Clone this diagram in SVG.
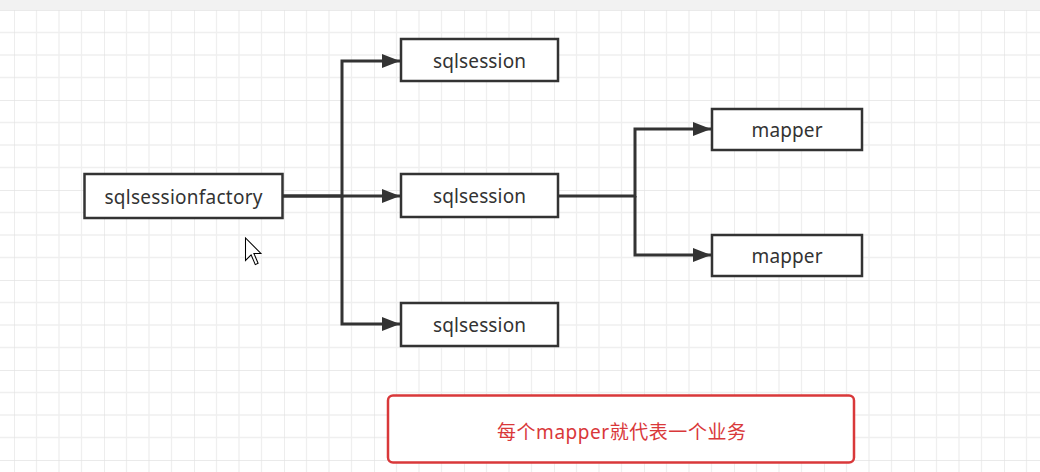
<svg xmlns="http://www.w3.org/2000/svg" width="1040" height="472" viewBox="0 0 1040 472">
<defs>
<pattern id="grid" patternUnits="userSpaceOnUse" x="14" y="10" width="90" height="90">
<path d="M22.5 0V90M45 0V90M67.5 0V90M0 22.5H90M0 45H90M0 67.5H90" stroke="#efefef" stroke-width="1.3" fill="none"/>
<path d="M0 0V90M0 0H90" stroke="#e3e3e3" stroke-width="1.3" fill="none"/>
</pattern>
<marker id="arr" markerUnits="userSpaceOnUse" markerWidth="20" markerHeight="16" refX="18" refY="7" orient="auto">
<path d="M0 0L18 7L0 14Z" fill="#333"/>
</marker>
</defs>
<style>
.box{fill:#fff;stroke:#333;stroke-width:2.5}
.lbl{font-family:"Noto Sans","Noto Sans CJK SC",sans-serif;font-size:19px;fill:#333;text-anchor:middle}
.con{fill:none;stroke:#333;stroke-width:3}
.note{fill:#fff;stroke:#d9383a;stroke-width:2.5}
.ntxt{font-family:"Noto Sans","Noto Sans CJK SC",sans-serif;font-size:19px;fill:#d9383a;text-anchor:middle}
</style>
<rect x="0" y="0" width="1040" height="472" fill="#fff"/>
<rect x="0" y="10" width="1040" height="462" fill="url(#grid)"/>
<rect x="0" y="0" width="1040" height="10" fill="#f2f2f2"/>
<g id="connectors">
<path class="con" d="M283 196H342V61H400" marker-end="url(#arr)"/>
<path class="con" d="M283 196H400" marker-end="url(#arr)"/>
<path class="con" d="M342 196V324H400" marker-end="url(#arr)"/>
<path class="con" d="M558 196H635V129H711" marker-end="url(#arr)"/>
<path class="con" d="M635 196V255H711" marker-end="url(#arr)"/>
</g>
<g id="factory">
<rect class="box" x="84.5" y="174" width="198" height="44"/>
<text class="lbl" x="183.5" y="204" textLength="158">sqlsessionfactory</text>
</g>
<g id="session1">
<rect class="box" x="401" y="39" width="157" height="42"/>
<text class="lbl" x="479.5" y="68" textLength="93">sqlsession</text>
</g>
<g id="session2">
<rect class="box" x="401" y="174" width="157" height="43"/>
<text class="lbl" x="479.5" y="203" textLength="93">sqlsession</text>
</g>
<g id="session3">
<rect class="box" x="401" y="303" width="157" height="43"/>
<text class="lbl" x="479.5" y="332" textLength="93">sqlsession</text>
</g>
<g id="mapper1">
<rect class="box" x="712" y="109" width="150" height="41"/>
<text class="lbl" x="787" y="137" textLength="71">mapper</text>
</g>
<g id="mapper2">
<rect class="box" x="712" y="235" width="150" height="41"/>
<text class="lbl" x="787" y="263" textLength="71">mapper</text>
</g>
<g id="note">
<rect class="note" x="388" y="395.5" width="466" height="67" rx="5"/>
<text class="ntxt" x="621.5" y="439" textLength="249">每个mapper就代表一个业务</text>
</g>
<path d="M0 0L0 16L4 12L7 19L9 18L6 11L11 11Z" transform="translate(245.5 238) scale(1.4)" fill="#fff" stroke="#000" stroke-width="0.75" stroke-linejoin="miter"/>
</svg>
